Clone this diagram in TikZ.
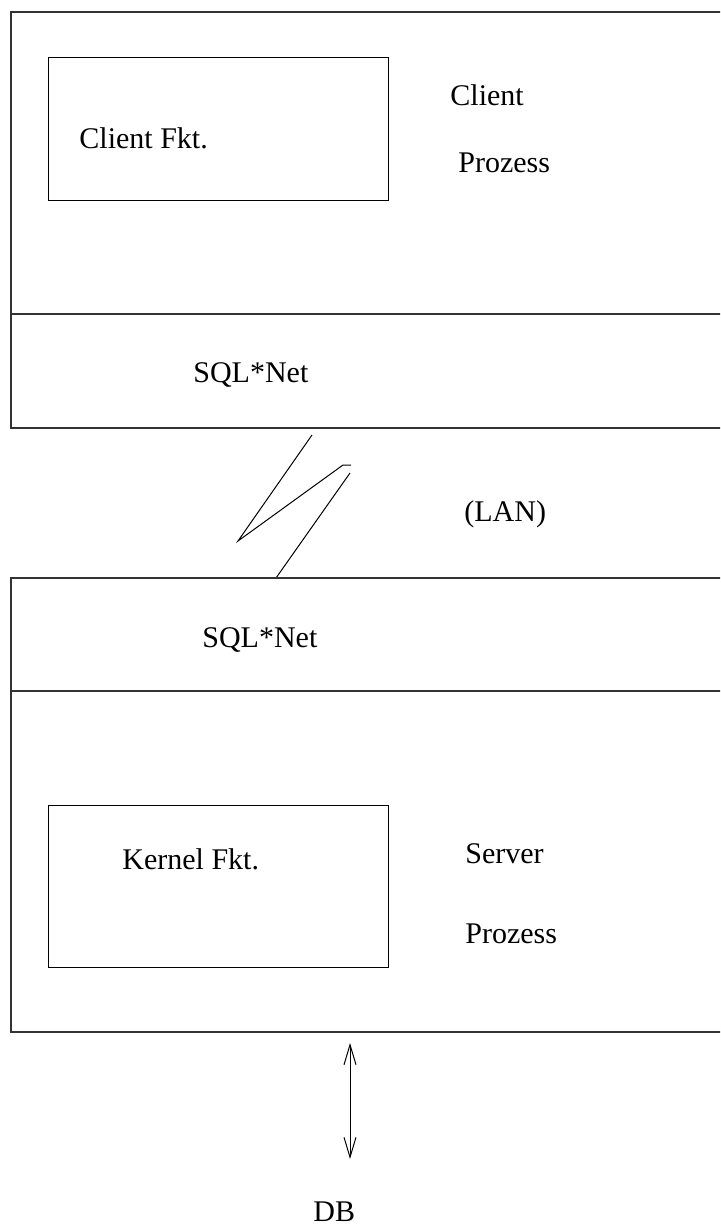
\documentclass[tikz,border=0pt]{standalone}
\usepackage{fontspec}
\setmainfont{Liberation Serif}
\usetikzlibrary{arrows.meta}
\tikzset{
  lbl/.style={anchor=base west, inner sep=0pt, font=\fontsize{15}{18}\selectfont},
  boxline/.style={line width=0.6pt, draw=black!80},
  thin/.style={line width=0.5pt, draw=black}
}
\begin{document}
\begin{tikzpicture}[x=0.5pt, y=-0.5pt]
\useasboundingbox (0,0) rectangle (720,1226);
\clip (0,0) rectangle (720,1226);
% client process
\draw[boxline] (730,12) -- (11,12) -- (11,428) -- (730,428);
\draw[boxline] (11,314) -- (730,314);
\draw[thin] (48,57) rectangle (388,200);
\node[lbl] (cf) at (79,148) {Client Fkt.};
\node[lbl] (cl) at (450,105) {Client};
\node[lbl] (cp) at (458,172) {Prozess};
\node[lbl] (sn1) at (193,382) {SQL*Net};
% LAN link
\draw[thin] (312,435) -- (238,541) -- (343,465) -- (351,465);
\draw[thin] (350,473) -- (276,578);
\node[lbl] (lan) at (464,521) {(LAN)};
% server process
\draw[boxline] (730,578) -- (11,578) -- (11,1032) -- (730,1032);
\draw[boxline] (11,691) -- (730,691);
\node[lbl] (sn2) at (202,647) {SQL*Net};
\draw[thin] (48,805) rectangle (388,967);
\node[lbl] (kf) at (122,869) {Kernel Fkt.};
\node[lbl] (sv) at (465,863) {Server};
\node[lbl] (sp) at (465,943) {Prozess};
% DB
\node[lbl, text depth=0pt] (db) at (313,1221) {DB};
\coordinate (a1) at (350,1043);
\coordinate (a2) at (350,1159);
\draw[thin, {Straight Barb[length=10pt,width=6pt]}-{Straight Barb[length=10pt,width=6pt]}] (a1) -- (a2);
\end{tikzpicture}
\end{document}
